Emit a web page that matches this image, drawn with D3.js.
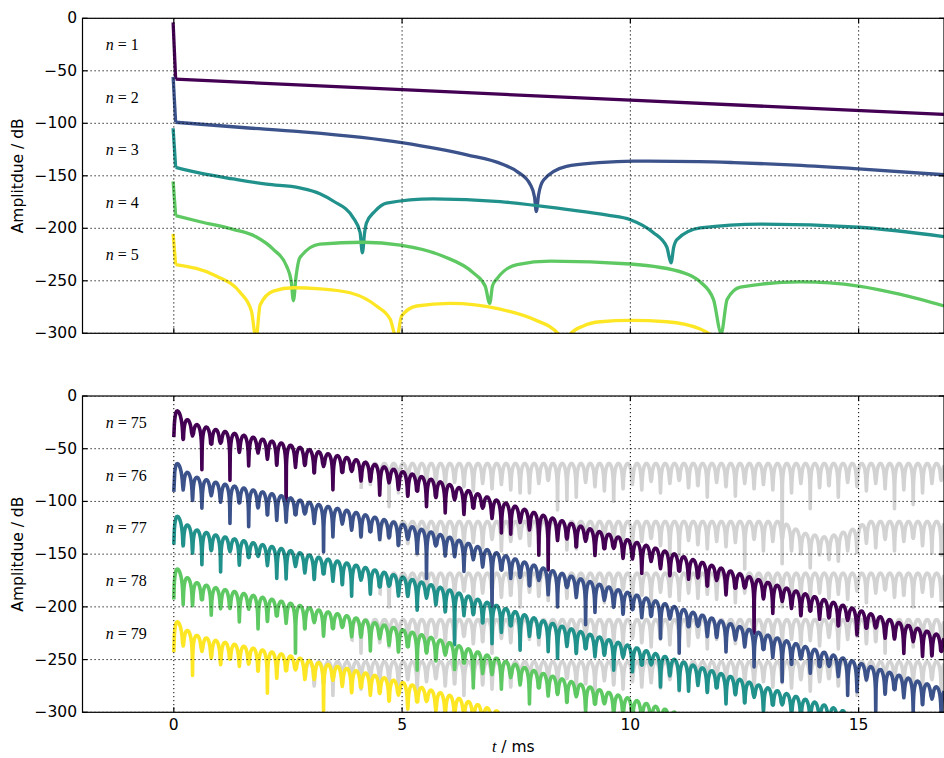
<!DOCTYPE html>
<html><head><meta charset="utf-8">
<script src="https://cdn.jsdelivr.net/npm/d3@7"></script>
<style>
body{margin:0;background:#fff}
svg{display:block}
text{font-family:"DejaVu Sans",sans-serif;fill:#000}
</style></head>
<body>
<svg id="chart" width="944" height="758"></svg>
<script>
// ---------- data ----------
const colors = ["#440154", "#3b528b", "#21918c", "#5ec962", "#fde725"];
const grayColor = "#d3d3d3";
const xTicks = [0, 5, 10, 15];
const yTicks = [0, -50, -100, -150, -200, -250, -300];
const topLabels = ["1", "2", "3", "4", "5"];
const bottomLabels = ["75", "76", "77", "78", "79"];
const labelLevels = [-25, -75, -125, -175, -225];

// top panel: vertical spike at t=0 then smooth curve
const topSpikes = [
  [[-0.015, -4], [0.04, -58]],
  [[-0.015, -55.7], [0.04, -99]],
  [[-0.015, -104.7], [0.04, -142]],
  [[-0.015, -155.4], [0.04, -188]],
  [[-0.015, -205.4], [0.04, -234.5]]
];
const topCurve1 = [[0.04, -58], [5, -68], [10, -78], [16.87, -91.5]];
const topCurve2 = [[0.04, -99], [1.5, -104], [2.76, -108], [4.99, -118.4], [6.42, -130], [7.2, -139], [7.52, -146], [7.81, -158.5], [7.9, -170], [7.94, -184], [7.99, -168], [8.1, -154], [8.6, -141], [9.3, -137.5], [10.07, -136], [11.5, -136.5], [12.27, -137.4], [13.5, -139.5], [15, -143.4], [16.87, -149]];
const topCurve3 = [[0.04, -142], [0.58, -147.5], [1.3, -153], [2.03, -158], [2.76, -161.5], [3.2, -167], [3.49, -174], [3.93, -190], [4.08, -204], [4.13, -223.4], [4.18, -204], [4.22, -195], [4.4, -184], [4.66, -176], [5.68, -172], [7.15, -174.6], [8.6, -182], [9.5, -187.5], [10, -191.8], [10.5, -204], [10.8, -218], [10.89, -233], [10.95, -218], [11.02, -210.8], [11.53, -199.7], [12.85, -196], [15, -199], [16.87, -208]];
const topCurve4 = [[0.04, -188], [0.6, -194], [1.3, -201], [1.8, -208], [2.18, -220], [2.47, -236], [2.57, -250], [2.62, -269], [2.68, -245], [2.76, -228], [3.2, -215], [4.15, -213.3], [4.96, -216], [5.9, -226.6], [6.56, -242.4], [6.82, -255], [6.92, -271.5], [6.98, -255], [7.08, -248], [7.52, -234.5], [8.25, -231.3], [10, -234], [11.17, -242.4], [11.53, -251], [11.82, -267.7], [11.99, -300], [12.12, -267.7], [12.41, -256], [13.73, -251], [15, -255], [15.92, -263], [16.87, -274]];
const topCurve5 = [[0.04, -234.5], [0.94, -245.6], [1.45, -261], [1.7, -278.8], [1.8, -305], [1.89, -273], [2.18, -259.8], [2.62, -256.6], [3.2, -257.6], [3.86, -261.4], [4.44, -274], [4.74, -286.7], [4.88, -305], [4.99, -283.6], [5.32, -274], [6.05, -271.5], [7.15, -277], [7.88, -286.7], [8.43, -301], [8.55, -320], [8.68, -301], [8.97, -293], [9.34, -289], [10, -287.7], [10.8, -289], [11.53, -296], [11.75, -301], [12.5, -330], [16.87, -400]];
const topCurves = [topCurve1, topCurve2, topCurve3, topCurve4, topCurve5];

// bottom panel: lobe tops (n=75), offsets of the other curves, starting values
const lobePeriod = 0.205; // ms between dips
const envTop75 = [[0.05, -12], [0.2, -20], [0.5, -27], [0.94, -32], [1.67, -38.5], [2.4, -45], [3.13, -52.5], [3.86, -59], [4.59, -67], [5.31, -75], [6.05, -84], [8, -112], [10, -137], [12.5, -170], [15, -203], [16.87, -228]];
const bottomOffsets = [0, -50, -100, -150, -200];
const bottomStarts = [-39, -91, -141, -193, -243];
const dipPattern = [16, 21, 13, 24, 15, 12, 19, 17, 28, 14, 18, 22, 15, 20];
const deepDips = [
  [[0.6, -70], [1.3, -80], [2.36, -100], [2.5, -111], [3.4, -89], [4.45, -89], [5.55, -105], [5.94, -111], [6.3, -100], [6.7, -106], [7.1, -130], [7.9, -151], [8.25, -165], [9.2, -150], [12.7, -225], [16.3, -247]],
  [[0.39, -99], [1.16, -121], [1.74, -124], [2.29, -118], [3.2, -148], [5.47, -173], [7.0, -213], [8.5, -200], [9.08, -217], [10.57, -230], [11.15, -244], [12.65, -257], [13.24, -271], [14.77, -284], [15.3, -300], [16.26, -300]],
  [[0.43, -149], [0.69, -160], [1.12, -167], [2.25, -173], [3.68, -179], [3.9, -190], [5.39, -200], [6.12, -236], [6.89, -235], [7.62, -241], [8.39, -249], [9.7, -260], [10.6, -276], [11.19, -280], [12.1, -292]],
  [[0.21, -198], [0.83, -208], [1.85, -221], [2.73, -244], [4.92, -240], [5.32, -260], [6.6, -277], [7.69, -292]],
  [[0.43, -265], [2.15, -282], [3.3, -300]]
];
// gray (noise floor) curves
const grayEnv = [
  [[0, -64], [17, -64]],
  [[0, -119], [13.3, -119], [13.8, -130], [14.3, -134], [14.9, -126], [15.2, -119], [17, -119]],
  [[0, -168], [17, -168]],
  [[0, -212], [17, -212]],
  [[0, -252], [17, -252]]
];
const grayDeepDips = [
  [[4.67, -105], [6.34, -83], [7.5, -92], [8.32, -108], [8.68, -99], [9.62, -100], [10.57, -92], [12.33, -95], [13.27, -159], [13.85, -107], [15.79, -107], [16.2, -103]],
  [[8.68, -146], [10.94, -150], [12.5, -164], [14.47, -151], [16.6, -149]],
  [], [], []
];

// ---------- layout ----------
const plotL = 82.5, plotR = 944;
const panels = [{ top: 18.3, bottom: 333.3 }, { top: 396, bottom: 712.3 }];
const svg = d3.select("#chart");
const x = d3.scaleLinear().domain([-2, 16.87]).range([plotL, plotR]);

function interp(pts, t) {
  if (t <= pts[0][0]) return pts[0][1];
  for (let i = 1; i < pts.length; i++) {
    if (t <= pts[i][0]) {
      const [t0, v0] = pts[i - 1], [t1, v1] = pts[i];
      return v0 + (v1 - v0) * (t - t0) / (t1 - t0);
    }
  }
  return pts[pts.length - 1][1];
}

const uSamples = [0.03, 0.06, 0.1, 0.15, 0.22, 0.3, 0.4, 0.5, 0.6, 0.7, 0.78, 0.85, 0.9, 0.94, 0.97];
function buildLobes(topFn, t0, t1, shift, extra, deep, startVal) {
  const k0 = Math.floor(t0 / lobePeriod), k1 = Math.ceil(t1 / lobePeriod);
  const dips = [];
  for (let k = k0; k <= k1 + 1; k++) {
    const td = k * lobePeriod;
    let b = topFn(td) - (dipPattern[(k + shift) % dipPattern.length] + extra);
    for (const [tt, v] of deep) if (Math.abs(tt - td) <= lobePeriod / 2 && v < b) b = v;
    dips.push([td, b]);
  }
  const pts = [];
  if (startVal !== null) pts.push([0, startVal]);
  for (let i = 0; i < dips.length - 1; i++) {
    const [td, b] = dips[i];
    if (!(startVal !== null && i === 0)) pts.push([td, b]);
    const bn = dips[i + 1][1];
    for (const u of uSamples) {
      const t = td + u * lobePeriod;
      const v = topFn(t) + 20 * Math.log10(Math.sin(Math.PI * u));
      if (v > (u < 0.5 ? b : bn)) pts.push([t, v]);
    }
  }
  return pts.filter(p => p[0] >= t0 - 1e-9 && p[0] <= t1 + 0.01);
}

panels.forEach((p, pi) => {
  const y = d3.scaleLinear().domain([-300, 0]).range([p.bottom, p.top]);
  const g = svg.append("g");
  const clipId = "clip" + pi;
  svg.append("clipPath").attr("id", clipId).append("rect")
    .attr("x", plotL).attr("y", p.top).attr("width", plotR - plotL).attr("height", p.bottom - p.top);
  const data = g.append("g").attr("clip-path", `url(#${clipId})`);
  const line = d3.line().x(d => x(d[0])).y(d => y(d[1]));
  const smooth = d3.line().x(d => x(d[0])).y(d => y(d[1])).curve(d3.curveMonotoneX);

  if (pi === 0) {
    topCurves.forEach((c, i) => {
      data.append("path").attr("d", line(topSpikes[i])).attr("fill", "none")
        .attr("stroke", colors[i]).attr("stroke-width", 3.3).attr("stroke-linejoin", "round");
      data.append("path").attr("d", smooth(c)).attr("fill", "none")
        .attr("stroke", colors[i]).attr("stroke-width", 3.3).attr("stroke-linejoin", "round");
    });
  } else {
    // gray floors first
    bottomOffsets.forEach((off, i) => {
      const envF = t => interp(envTop75, t) + off;
      const gF = t => interp(grayEnv[i], t);
      let tc = 0;
      while (tc < 16.87 && envF(tc) > gF(tc) + 1) tc += 0.01;
      const pts = buildLobes(gF, Math.floor(tc / lobePeriod) * lobePeriod, 16.87, i * 3 + 7, 4, grayDeepDips[i], null);
      data.append("path").attr("d", line(pts)).attr("fill", "none")
        .attr("stroke", grayColor).attr("stroke-width", 3.6).attr("stroke-linejoin", "round");
    });
    bottomOffsets.forEach((off, i) => {
      const envF = t => interp(envTop75, t) + off;
      const pts = buildLobes(envF, 0, 16.87, i * 5, 0, deepDips[i], bottomStarts[i]);
      data.append("path").attr("d", line(pts)).attr("fill", "none")
        .attr("stroke", colors[i]).attr("stroke-width", 3.6).attr("stroke-linejoin", "round");
    });
  }

  // grid (dotted, on top as in classic style)
  const grid = g.append("g").attr("clip-path", `url(#${clipId})`);
  xTicks.forEach(t => grid.append("line").attr("x1", x(t)).attr("x2", x(t)).attr("y1", p.top).attr("y2", p.bottom)
    .attr("stroke", "#000").attr("stroke-width", 1).attr("stroke-dasharray", "1.2,2.8"));
  yTicks.forEach(v => grid.append("line").attr("x1", plotL).attr("x2", plotR).attr("y1", y(v)).attr("y2", y(v))
    .attr("stroke", "#000").attr("stroke-width", 1).attr("stroke-dasharray", "1.2,2.8"));

  // frame
  g.append("rect").attr("x", plotL).attr("y", p.top).attr("width", plotR - plotL).attr("height", p.bottom - p.top)
    .attr("fill", "none").attr("stroke", "#000").attr("stroke-width", 1.2);

  // ticks (inward, all sides)
  const tl = 5;
  xTicks.forEach(t => {
    g.append("line").attr("x1", x(t)).attr("x2", x(t)).attr("y1", p.bottom).attr("y2", p.bottom - tl).attr("stroke", "#000").attr("stroke-width", 1.2);
    g.append("line").attr("x1", x(t)).attr("x2", x(t)).attr("y1", p.top).attr("y2", p.top + tl).attr("stroke", "#000").attr("stroke-width", 1.2);
  });
  yTicks.forEach(v => {
    g.append("line").attr("x1", plotL).attr("x2", plotL + tl).attr("y1", y(v)).attr("y2", y(v)).attr("stroke", "#000").attr("stroke-width", 1.2);
    g.append("line").attr("x1", plotR - tl).attr("x2", plotR).attr("y1", y(v)).attr("y2", y(v)).attr("stroke", "#000").attr("stroke-width", 1.2);
  });

  // y tick labels
  yTicks.forEach(v => {
    g.append("text").attr("x", 77).attr("y", y(v)).attr("text-anchor", "end")
      .attr("dominant-baseline", "central").style("font-size", "15.5px")
      .text(v === 0 ? "0" : "\u2212" + Math.abs(v));
  });
  // y label
  g.append("text").attr("transform", `translate(22.5,${(p.top + p.bottom) / 2}) rotate(-90)`)
    .attr("text-anchor", "middle").style("font-size", "15.5px").text("Amplitdue / dB");

  // n labels
  const labs = pi === 0 ? topLabels : bottomLabels;
  labs.forEach((s, i) => {
    const t = g.append("text").attr("x", x(-1.49)).attr("y", y(labelLevels[i]) + 5.5)
      .style("font-family", "'Liberation Serif', serif").style("font-size", "16px");
    t.append("tspan").style("font-style", "italic").text("n");
    t.append("tspan").text(" = " + s);
  });

  if (pi === 1) {
    xTicks.forEach(t => g.append("text").attr("x", x(t)).attr("y", 729.5).attr("text-anchor", "middle")
      .style("font-size", "15.5px").text(String(t)));
    const xl = g.append("text").attr("x", (plotL + plotR) / 2).attr("y", 752).attr("text-anchor", "middle").style("font-size", "15.5px");
    xl.append("tspan").style("font-family", "'Liberation Serif', serif").style("font-style", "italic").style("font-size", "16px").text("t");
    xl.append("tspan").text(" / ms");
  }
});
</script>
</body></html>
